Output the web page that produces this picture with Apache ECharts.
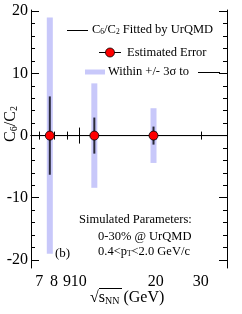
<!DOCTYPE html>
<html><head><meta charset="utf-8">
<script src="https://cdn.jsdelivr.net/npm/echarts@6/dist/echarts.min.js"></script>
<style>html,body{margin:0;padding:0;background:#fff}#c{width:242px;height:314px}</style>
</head><body><div id="c"></div>
<script>
// ---- data ----
const energies = [7.7, 11.5, 19.6];          // sqrt(s_NN) GeV
const values = [0, 0, 0];                    // C6/C2 estimated
const errors = [6.3, 2.9, 1.45];             // estimated error (1 sigma)
const bands = [19.0, 8.4, 4.4];              // +/- 3 sigma
const fitLineX = [6.5, 38];
const fitLineY = [0, 0];
const xLabelValues = [7, 8, 9, 10, 20, 30];
const xMinorTicks = [7, 8, 9, 20, 30];
const xMajorTicks = [10];
const yLabelValues = [-20, -10, 0, 10, 20];
const yMinorTicks = [-18, -16, -14, -12, -8, -6, -4, -2, 2, 4, 6, 8, 12, 14, 16, 18];
const yMajorTicks = [-20, -10, 0, 10, 20];
const X_MIN = 6.5, X_MAX = 38, Y_MIN = -21.3, Y_MAX = 20.2;

const FONT = 'Liberation Serif';
const BAND = '#c8c8fa';

function xAx(pos, ticks, len, labels, line) {
  return {
    type: 'log', logBase: 10, min: X_MIN, max: X_MAX, position: pos,
    axisLine: { show: line, lineStyle: { color: '#000', width: 1 } },
    axisTick: { show: true, inside: true, length: len, customValues: ticks, lineStyle: { color: '#000', width: 1 } },
    axisLabel: labels ? { show: true, customValues: xLabelValues, hideOverlap: false, fontFamily: FONT, fontSize: 16, color: '#000', margin: 6 } : { show: false },
    splitLine: { show: false }, minorTick: { show: false }
  };
}
function yAx(pos, ticks, len, labels, line) {
  return {
    type: 'value', min: Y_MIN, max: Y_MAX, position: pos,
    axisLine: { show: line, onZero: false, lineStyle: { color: '#000', width: 1 } },
    axisTick: { show: true, inside: true, length: len, customValues: ticks, lineStyle: { color: '#000', width: 1 } },
    axisLabel: labels ? { show: true, customValues: yLabelValues, fontFamily: FONT, fontSize: 16, color: '#000', margin: 3 } : { show: false },
    splitLine: { show: false }
  };
}

const subRich = {
  a: { fontFamily: FONT, fontSize: 16, color: '#000' },
  s: { fontFamily: FONT, fontSize: 10, color: '#000', verticalAlign: 'bottom', padding: [6, 0, 0, 0] }
};
const legRich = {
  a: { fontFamily: FONT, fontSize: 12.5, color: '#000' },
  s: { fontFamily: FONT, fontSize: 7.5, color: '#000', verticalAlign: 'bottom', padding: [5, 0, 0, 0] }
};
const F12 = '12.5px "Liberation Serif"';

const chart = echarts.init(document.getElementById('c'), null, { renderer: 'canvas' });
chart.setOption({
  animation: false,
  backgroundColor: '#fff',
  grid: { left: 31, right: 15, top: 10, bottom: 46, containLabel: false },
  xAxis: [
    xAx('bottom', xMinorTicks, 4, true, true),
    xAx('bottom', xMajorTicks, 8, false, false),
    xAx('top', xMinorTicks, 4, false, true),
    xAx('top', xMajorTicks, 8, false, false)
  ],
  yAxis: [
    yAx('left', yMinorTicks, 4, true, true),
    yAx('left', yMajorTicks, 8, false, false),
    yAx('right', yMinorTicks, 4, false, true),
    yAx('right', yMajorTicks, 8, false, false)
  ],
  series: [
    {
      type: 'custom', name: 'band', z: 2,
      data: energies.map((e, i) => [e, values[i] - bands[i], values[i] + bands[i]]),
      encode: { x: 0, y: [1, 2] },
      renderItem: (params, api) => {
        const p1 = api.coord([api.value(0), api.value(2)]);
        const p2 = api.coord([api.value(0), api.value(1)]);
        return { type: 'rect', shape: { x: p1[0] - 3, y: p1[1], width: 6, height: p2[1] - p1[1] }, style: { fill: BAND } };
      }
    },
    {
      type: 'line', name: 'fit', z: 3, symbol: 'none',
      data: fitLineX.map((x, i) => [x, fitLineY[i]]),
      lineStyle: { color: '#000', width: 1 }
    },
    {
      type: 'custom', name: 'err', z: 4,
      data: energies.map((e, i) => [e, values[i] - errors[i], values[i] + errors[i]]),
      encode: { x: 0, y: [1, 2] },
      renderItem: (params, api) => {
        const p1 = api.coord([api.value(0), api.value(2)]);
        const p2 = api.coord([api.value(0), api.value(1)]);
        return { type: 'line', shape: { x1: p1[0], y1: p1[1], x2: p2[0], y2: p2[1] }, style: { stroke: '#2a2a3a', lineWidth: 2 } };
      }
    },
    {
      type: 'scatter', name: 'pts', z: 5, symbol: 'circle', symbolSize: 9,
      data: energies.map((e, i) => [e, values[i]]),
      itemStyle: { color: '#ff0000', borderColor: '#000', borderWidth: 0.8, opacity: 1 }
    }
  ],
  graphic: [
    // legend
    { type: 'line', shape: { x1: 67, y1: 30.5, x2: 88, y2: 30.5 }, style: { stroke: '#000', lineWidth: 1 } },
    { type: 'text', x: 92, y: 30, style: { text: '{a|C}{s|6}{a|/C}{s|2}{a| Fitted by UrQMD}', rich: legRich, verticalAlign: 'middle', align: 'left' } },
    { type: 'line', shape: { x1: 99, y1: 52.5, x2: 121, y2: 52.5 }, style: { stroke: '#000', lineWidth: 1 } },
    { type: 'circle', shape: { cx: 110, cy: 52.5, r: 4.5 }, style: { fill: '#ff0000', stroke: '#000', lineWidth: 0.8 } },
    { type: 'text', x: 127, y: 52.5, style: { text: 'Estimated Error', font: F12, fill: '#000', verticalAlign: 'middle', align: 'left' } },
    { type: 'line', shape: { x1: 85, y1: 72, x2: 105, y2: 72 }, style: { stroke: BAND, lineWidth: 5 } },
    { type: 'text', x: 108, y: 72, style: { text: 'Within +/- 3σ to', font: F12, fill: '#000', verticalAlign: 'middle', align: 'left' } },
    { type: 'line', shape: { x1: 198, y1: 72.5, x2: 220, y2: 72.5 }, style: { stroke: '#000', lineWidth: 1 } },
    // annotations
    { type: 'text', x: 79, y: 220, style: { text: 'Simulated Parameters:', font: F12, fill: '#000', verticalAlign: 'middle', align: 'left' } },
    { type: 'text', x: 98, y: 237, style: { text: '0-30% @ UrQMD', font: F12, fill: '#000', verticalAlign: 'middle', align: 'left' } },
    { type: 'text', x: 98, y: 252, style: { text: '{a|0.4<p}{s|T}{a|<2.0 GeV/c}', rich: legRich, verticalAlign: 'middle', align: 'left' } },
    { type: 'text', x: 55, y: 254, style: { text: '(b)', font: '13px "Liberation Serif"', fill: '#000', verticalAlign: 'middle', align: 'left' } },
    // y title
    { type: 'text', x: 11, y: 124, rotation: Math.PI / 2, style: { text: '{a|C}{s|6}{a|/C}{s|2}', rich: subRich, verticalAlign: 'middle', align: 'center' } },
    // x title
    { type: 'text', x: 90, y: 298, style: { text: '{a|√}{a|s}{s|NN}{a| (GeV)}', rich: subRich, verticalAlign: 'middle', align: 'left' } },
    { type: 'line', shape: { x1: 99, y1: 288.5, x2: 122, y2: 288.5 }, style: { stroke: '#000', lineWidth: 1 } }
  ]
});
</script>
</body></html>
